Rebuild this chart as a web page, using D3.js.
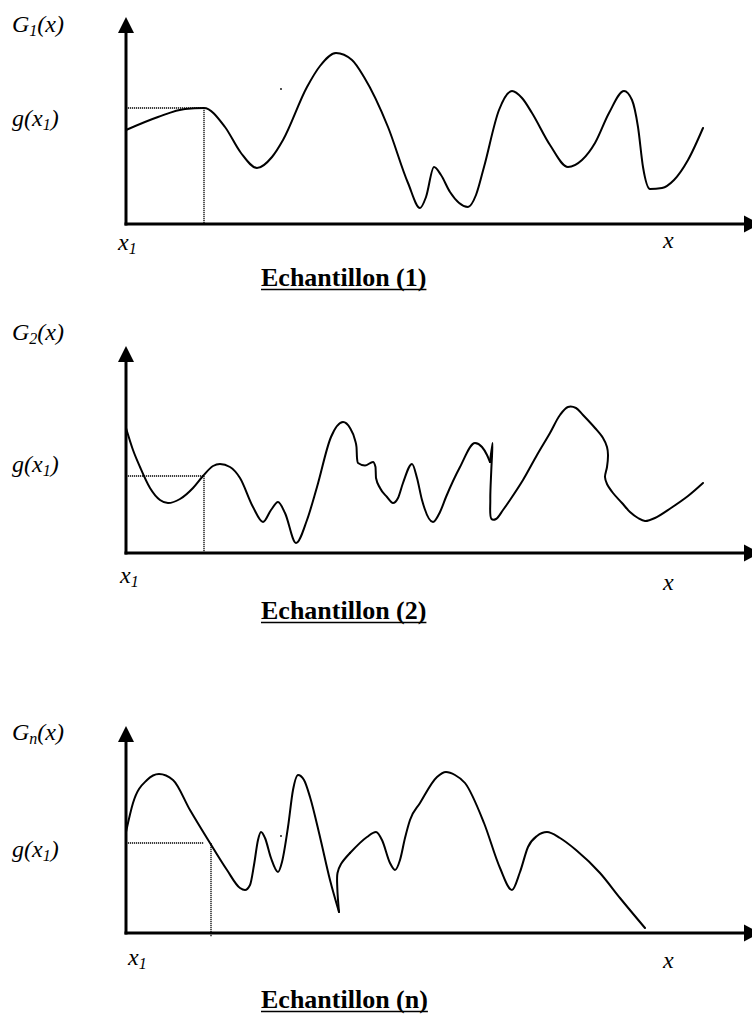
<!DOCTYPE html>
<html>
<head>
<meta charset="utf-8">
<script src="https://cdn.jsdelivr.net/npm/d3@7/dist/d3.min.js"></script>
<style>
  html, body { margin: 0; padding: 0; background: #fff; }
  svg { display: block; }
  text { font-family: "Liberation Serif", "Times New Roman", serif; fill: #000; }
</style>
</head>
<body>
<svg id="chart" width="752" height="1016"></svg>
<script>
// Sample 1: x and G1(x) in axis units
const sample1X = [0, 16, 29.5, 39, 49.5, 57.5, 65.5, 73, 78.5, 90.5, 97, 105, 113, 119, 131, 141, 147, 150, 154, 157.5, 162, 171, 175, 179, 186.5, 193, 198, 203, 212, 221, 228, 234.5, 241.5, 249, 253, 256, 258.5, 262, 268, 274, 281, 288.5];
const sample1Y = [47, 53.5, 57.5, 58, 48.5, 35.5, 28, 33.5, 42, 68.5, 79, 85.5, 82, 73.5, 48.5, 20.5, 8, 13.5, 28.5, 24.5, 16, 8.5, 14.5, 28.5, 57, 66.5, 63, 55.5, 39.5, 28.5, 32, 40.5, 55.5, 66.5, 62, 48.5, 28.5, 17.5, 18, 22, 32, 48];
const sample1Breaks = [];

// Sample 2
const sample2X = [0, 3.5, 7, 12, 17, 21, 27, 33.5, 38.5, 43.5, 47, 52, 57, 63.5, 68.5, 72.5, 76, 79.5, 85, 90.5, 95.5, 102.5, 108.5, 112, 114.5, 115.25, 115.5, 116, 119.5, 123.5, 124.75, 125, 127, 130.5, 133.5, 136, 138.5, 143, 145.5, 148, 153.5, 157, 160, 167, 174.5, 178, 180.5, 182,
  183.25, 182.65, 182.15, 182.75, 185, 188.5, 192, 198.5, 205.5, 212, 217, 221, 225, 228.5, 234.5, 238.5, 240.5, 241, 240.5, 239.5, 240.5, 243.5, 248, 252, 256, 259.5, 264.5, 272.5, 281, 288.5];
const sample2Y = [62.5, 51.5, 43, 32.5, 26.5, 25, 27, 32.5, 38.5, 43.5, 44.5, 43, 37.5, 23, 15.5, 21.5, 25.5, 20, 5, 16.5, 33, 58, 65.5, 62.5, 56.5, 53, 47.5, 45, 43.75, 45.5, 43, 37.5, 32.5, 28, 25, 27.5, 35, 44.5, 37.5, 26.5, 15.5, 20.5, 28, 43, 55, 53, 49, 45.5,
  55, 41.5, 26.5, 17, 17, 21.5, 26.5, 36.5, 49, 60, 69, 73, 72.5, 69, 62.5, 57.5, 53, 49, 43, 38, 34.5, 30, 25, 20.5, 17.5, 16, 17.5, 22.5, 28.5, 35];
const sample2Breaks = [47];

// Sample n
const sampleNX = [0, 3.5, 10.5, 16.5, 23.5, 32, 42, 50.5, 57, 59.5, 62, 64, 66, 67.5, 69.5, 72.5, 76, 78, 81, 83.5, 86, 89, 92, 97, 102, 106.5,
  105.65, 105.75, 107.5, 112,
  120.5, 125, 128, 132, 134.5, 137, 139.5, 142, 147, 155.5, 160, 164.5, 169.5, 179, 187, 193, 197, 201, 205.5, 210.5, 217, 225, 237, 247, 259.5];
const sampleNY = [50.5, 65, 76.5, 79.5, 76.5, 61.5, 45, 31.5, 22.5, 21.5, 24, 34, 46.5, 50.5, 47.5, 37.5, 30.5, 35.5, 53, 71.5, 79, 76.5, 68, 48, 26.5, 10.5,
  22.5, 30, 34.5, 40,
  48, 50.5, 46.5, 35, 31.5, 36.5, 47.5, 56.5, 65, 78, 80.5, 79, 75, 55, 32.5, 21.5, 30.5, 43, 48.5, 50.5, 47.5, 41.5, 30, 17.5, 2.5];
const sampleNBreaks = [25, 29];

// Reference point g(x1) on each sample, and where the horizontal guide stops
const markX = [39, 39, 42.5];
const markY = [58, 38.5, 45];
const markHEnd = [39, 39, 39];

// Isolated specks on the sheet
const speckX = [77.5, null, 77.5];
const speckY = [67.5, null, 48.5];

// Labels
const axisSubs = ["1", "2", "n"];
const titles = ["Echantillon (1)", "Echantillon (2)", "Echantillon (n)"];

const panels = [
  { xs: sample1X, ys: sample1Y, breaks: sample1Breaks, axisY: 224, gY: 32, gxY: 126, x1Lab: [118, 250], xLab: [663, 248], titleY: 286 },
  { xs: sample2X, ys: sample2Y, breaks: sample2Breaks, axisY: 553, gY: 340, gxY: 472, x1Lab: [120, 583], xLab: [663, 590], titleY: 619 },
  { xs: sampleNX, ys: sampleNY, breaks: sampleNBreaks, axisY: 933, gY: 740, gxY: 857, x1Lab: [128, 965], xLab: [663, 968], titleY: 1008 }
];

const FONT = "Liberation Serif, Times New Roman, serif";
const svg = d3.select("#chart");
const x = d3.scaleLinear().domain([0, 313]).range([126, 752]);
const axisLen = 207;

panels.forEach((p, i) => {
  const y = d3.scaleLinear().domain([0, 103.5]).range([p.axisY, p.axisY - axisLen]);
  const g = svg.append("g");

  // dotted guide lines to g(x1)
  g.append("line")
    .attr("x1", x(0)).attr("x2", x(markHEnd[i]))
    .attr("y1", y(markY[i])).attr("y2", y(markY[i]))
    .attr("stroke", "#000").attr("stroke-width", 1.3).attr("stroke-dasharray", "1.2,0.8");
  g.append("line")
    .attr("x1", x(markX[i])).attr("x2", x(markX[i]))
    .attr("y1", y(markY[i])).attr("y2", y(0) + (i === 2 ? 4 : 0))
    .attr("stroke", "#000").attr("stroke-width", 1.3).attr("stroke-dasharray", "1.2,0.8");

  // axes with arrowheads
  g.append("line")
    .attr("x1", x(0)).attr("x2", x(0))
    .attr("y1", y(0) + 1.5).attr("y2", y(103.5) + 14)
    .attr("stroke", "#000").attr("stroke-width", 3);
  g.append("line")
    .attr("x1", x(0) - 1.5).attr("x2", 746)
    .attr("y1", y(0)).attr("y2", y(0))
    .attr("stroke", "#000").attr("stroke-width", 3);
  g.append("path")
    .attr("d", `M${x(0)},${y(103.5)} L${x(0) - 8},${y(103.5) + 16} L${x(0) + 8},${y(103.5) + 16} Z`)
    .attr("fill", "#000");
  g.append("path")
    .attr("d", `M760,${y(0)} L744,${y(0) - 8.5} L744,${y(0) + 8.5} Z`)
    .attr("fill", "#000");

  // the sample curve, split at its sharp turns
  const pts = p.xs.map((v, k) => [v, p.ys[k]]);
  const cuts = [0, ...p.breaks, pts.length - 1];
  for (let s = 0; s < cuts.length - 1; s++) {
    const piece = pts.slice(cuts[s], cuts[s + 1] + 1);
    const increasing = piece.every((d, k) => k === 0 || d[0] > piece[k - 1][0]);
    const line = d3.line()
      .x(d => x(d[0])).y(d => y(d[1]))
      .curve(increasing ? d3.curveMonotoneX : d3.curveCatmullRom.alpha(0.5));
    g.append("path")
      .attr("d", line(piece))
      .attr("fill", "none").attr("stroke", "#000")
      .attr("stroke-width", 2).attr("stroke-linejoin", "round").attr("stroke-linecap", "round");
  }

  if (speckX[i] !== null) {
    g.append("circle").attr("cx", x(speckX[i])).attr("cy", y(speckY[i]))
      .attr("r", 0.9).attr("fill", "#000");
  }

  const label = (tx, ty) => g.append("text").attr("x", tx).attr("y", ty)
    .attr("font-family", FONT).attr("font-size", 24).attr("font-style", "italic");

  // G_k(x)
  const gl = label(12, p.gY);
  gl.append("tspan").text("G");
  gl.append("tspan").text(axisSubs[i]).attr("font-size", 16).attr("dy", 4);
  gl.append("tspan").text("(x)").attr("dy", -4);

  // g(x1)
  const gx = label(12, p.gxY);
  gx.append("tspan").text("g(x");
  gx.append("tspan").text("1").attr("font-size", 16).attr("dy", 4);
  gx.append("tspan").text(")").attr("dy", -4);

  // x1 under the origin
  const xl = label(p.x1Lab[0], p.x1Lab[1]);
  xl.append("tspan").text("x");
  xl.append("tspan").text("1").attr("font-size", 16).attr("dy", 4);

  // x at the end of the abscissa
  label(p.xLab[0], p.xLab[1]).text("x");

  // underlined caption
  const t = g.append("text").attr("x", 261).attr("y", p.titleY)
    .attr("font-family", FONT).attr("font-size", 26).attr("font-weight", "bold").text(titles[i]);
  const w = t.node().getComputedTextLength();
  g.append("line")
    .attr("x1", 261).attr("x2", 261 + w)
    .attr("y1", p.titleY + 3.5).attr("y2", p.titleY + 3.5)
    .attr("stroke", "#000").attr("stroke-width", 1.6);
});
</script>
</body>
</html>
